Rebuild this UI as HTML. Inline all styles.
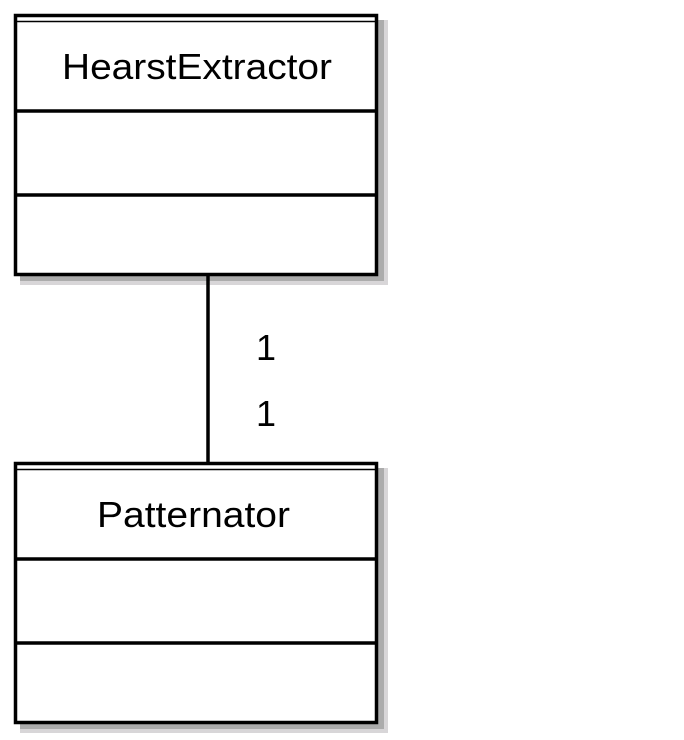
<!DOCTYPE html>
<html><head><style>html,body{margin:0;padding:0;background:#fff;}svg{display:block}</style></head>
<body>
<svg width="684" height="740" xmlns="http://www.w3.org/2000/svg" font-family="Liberation Sans, Arial, sans-serif">
<g>
<rect x="20" y="20" width="368" height="265" fill="#d8d6d8"/>
<rect x="20" y="20" width="364" height="261" fill="#acacac"/>
<rect x="15.5" y="15.5" width="361" height="259" fill="#fff" stroke="#000" stroke-width="3.5"/>
<line x1="15" y1="21.5" x2="377" y2="21.5" stroke="#000" stroke-width="1.5"/>
<line x1="15" y1="111" x2="377" y2="111" stroke="#000" stroke-width="3.5"/>
<line x1="15" y1="195" x2="377" y2="195" stroke="#000" stroke-width="3.5"/>
<text x="62" y="79" font-size="36" textLength="270" lengthAdjust="spacingAndGlyphs">HearstExtractor</text>
</g>
<g>
<rect x="20" y="468" width="368" height="265" fill="#d8d6d8"/>
<rect x="20" y="468" width="364" height="261" fill="#acacac"/>
<rect x="15.5" y="463.5" width="361" height="259" fill="#fff" stroke="#000" stroke-width="3.5"/>
<line x1="15" y1="469.5" x2="377" y2="469.5" stroke="#000" stroke-width="1.5"/>
<line x1="15" y1="559" x2="377" y2="559" stroke="#000" stroke-width="3.5"/>
<line x1="15" y1="643" x2="377" y2="643" stroke="#000" stroke-width="3.5"/>
<text x="97" y="527" font-size="36" textLength="193" lengthAdjust="spacingAndGlyphs">Patternator</text>
</g>
<line x1="208" y1="276" x2="208" y2="463" stroke="#000" stroke-width="3.5"/>
<text x="266" y="360" font-size="36" text-anchor="middle">1</text>
<text x="266" y="426" font-size="36" text-anchor="middle">1</text>
</svg>
</body></html>
